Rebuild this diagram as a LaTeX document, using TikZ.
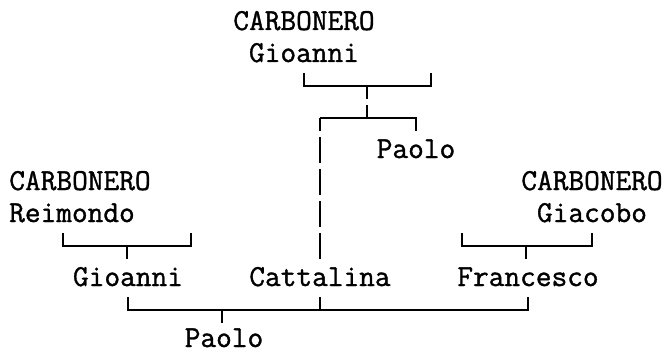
\documentclass[tikz,border=0pt]{standalone}
\usepackage{fontspec}
\newfontfamily\treefont[AutoFakeBold=1.2]{Latin Modern Mono}
\usetikzlibrary{calc}

\begin{document}
\begin{tikzpicture}[x=1pt, y=-1pt,
    person/.style={font=\treefont\bfseries\fontsize{30.48}{32}\selectfont, anchor=base, inner sep=0pt},
    link/.style={line width=1.6pt},
    longlink/.style={link, dash pattern=on 26pt off 6pt, dash phase=13pt}]
    \useasboundingbox (0,0) rectangle (663,353);

    % TOP: CARBONERO Gioanni and his children
    \node (SurTop) [person] at (304,30) {CARBONERO};
    \node (Gioanni1) [person] at (304,62) {Gioanni};
    \coordinate (Wife1) at (431,73);
    \coordinate (Fam1) at (367,86);
    \node (Paolo1) [person] at (416,158) {Paolo};
    \draw[link] (Gioanni1.base |- Wife1) -- (Gioanni1.base |- Fam1) -- (Fam1 -| Wife1) -- (Wife1);
    \draw[longlink] (Fam1) -- (367,118);

    % LEFT: CARBONERO Reimondo
    \node (SurLeft) [person] at (80,190) {CARBONERO};
    \node (Reimondo) [person] at (72,222) {Reimondo};
    \coordinate (Rei) at (63,233);
    \coordinate (Wife2) at (191,233);
    \coordinate (Fam2) at (127,246);
    \node (Gioanni2) [person] at (128,286) {Gioanni};
    \draw[link] (Rei) -- (Rei |- Fam2) -- (Fam2 -| Wife2) -- (Wife2);
    \draw[link] (Fam2) -- ++(0,13);

    % RIGHT: CARBONERO Giacobo
    \node (SurRight) [person] at (592,190) {CARBONERO};
    \node (Giacobo) [person] at (592,222) {Giacobo};
    \coordinate (Wife3) at (462,233);
    \coordinate (Fam3) at (526,246);
    \node (Francesco) [person] at (528,286) {Francesco};
    \draw[link] (Wife3) -- (Wife3 |- Fam3) -- (Giacobo.base |- Fam3) -- (Giacobo.base |- Wife3);
    \draw[link] (Fam3) -- ++(0,13);

    % MIDDLE: Cattalina, daughter of Gioanni
    \node (Cattalina) [person] at (320,286) {Cattalina};
    \coordinate (Fam4) at (367,118);
    \draw[link] (Cattalina.base |- Fam4) -- (Paolo1.base |- Fam4) -- ++(0,13);
    \draw[longlink] (Cattalina.base |- Fam4) -- (Cattalina.base |- 0,259);

    % BOTTOM: Paolo
    \coordinate (Fam5) at (222,310);
    \node (Paolo2) [person] at (224,347) {Paolo};
    \draw[link] (Gioanni2.base |- 0,297) -- (Gioanni2.base |- Fam5) -- (Francesco.base |- Fam5) -- (Francesco.base |- 0,297);
    \draw[link] (Cattalina.base |- 0,297) -- (Cattalina.base |- Fam5);
    \draw[link] (Fam5) -- ++(0,13);
\end{tikzpicture}
\end{document}
